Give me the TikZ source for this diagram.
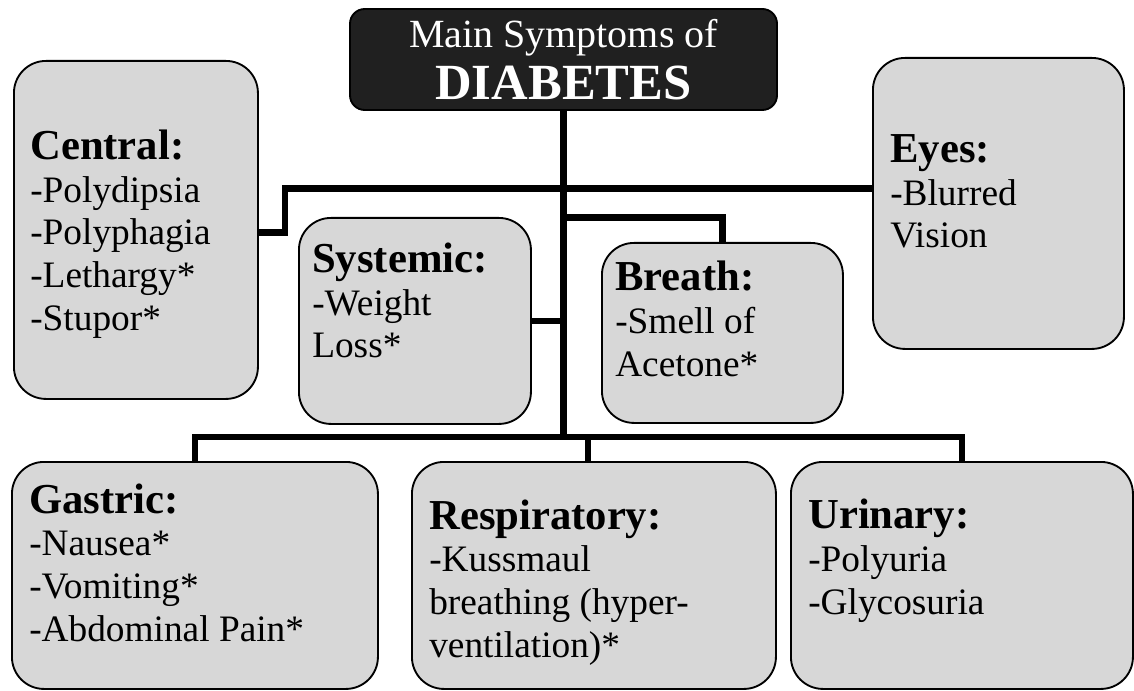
\documentclass[tikz,border=0pt]{standalone}
\usepackage{fontspec}
\setmainfont{Liberation Serif}
\definecolor{boxgray}{RGB}{215,215,215}
\definecolor{titlegray}{RGB}{32,32,32}
\newcommand{\hd}[1]{{\fontsize{32}{32}\selectfont\bfseries #1}}
\begin{document}
\begin{tikzpicture}[x=0.75pt, y=-0.75pt,
    box/.style = {draw, line width=1.4pt, fill=boxgray, rounded corners=24pt,
                  anchor=north west, inner sep=0},
    txt/.style = {anchor=base west, align=left, inner sep=0,
                  font=\fontsize{28}{32}\selectfont},
    conn/.style = {line width=5pt}]
          \useasboundingbox[fill=white] (0,0) rectangle (1134,691);

          \node[draw, line width=1.4pt, fill=titlegray, text=white, rounded corners=11pt,
                minimum width=427*0.75pt, minimum height=101*0.75pt, inner sep=0,
                align=center, font=\fontsize{30}{39}\selectfont] (title) at (563.5,59.5)
                {Main Symptoms of\\{\fontsize{38}{39}\selectfont\bfseries DIABETES}};

          \node[box, minimum width=244*0.75pt, minimum height=338*0.75pt] (central) at (13,60) {};
          \node[box, minimum width=232*0.75pt, minimum height=206*0.75pt] (systemic) at (298,217) {};
          \node[box, minimum width=241*0.75pt, minimum height=180*0.75pt] (breath) at (601,242) {};
          \node[box, minimum width=251*0.75pt, minimum height=291*0.75pt] (eyes) at (872,57) {};
          \node[box, minimum width=366*0.75pt, minimum height=227*0.75pt] (gastric) at (11,461) {};
          \node[box, minimum width=364*0.75pt, minimum height=227*0.75pt] (resp) at (411,461) {};
          \node[box, minimum width=342*0.75pt, minimum height=227*0.75pt] (urinary) at (790,461) {};

          % text nodes sit on the baseline of their last line
          \node[txt] (central-t) at (30,330) {\hd{Central:}\\-Polydipsia\\-Polyphagia\\-Lethargy*\\-Stupor*};
          \node[txt] (systemic-t) at (312,358) {\hd{Systemic:}\\-Weight\\Loss*};
          \node[txt] (breath-t) at (615,376) {\hd{Breath:}\\-Smell of\\Acetone*};
          \node[txt] (eyes-t) at (890,248) {\hd{Eyes:}\\-Blurred\\Vision};
          \node[txt] (gastric-t) at (29,641) {\hd{Gastric:}\\-Nausea*\\-Vomiting*\\-Abdominal Pain*};
          \node[txt] (resp-t) at (429,657) {\hd{Respiratory:}\\-Kussmaul\\breathing (hyper-\\ventilation)*};
          \node[txt] (urinary-t) at (808,614) {\hd{Urinary:}\\-Polyuria\\-Glycosuria};

          \coordinate (bus) at ([yshift=18pt]title.south |- gastric.north);
          \coordinate (fork) at ([yshift=-80pt]title.south);

          \draw[conn] (title.south) -- (bus);
          \draw[conn] ([yshift=-2pt]central.east) -- ++(26,0) |- ([yshift=11pt]eyes.west);
          \draw[conn] (systemic.east) -- (systemic.east -| title.south);
          \draw[conn] (fork) -| (breath.north);
          \draw[conn] (gastric.north) |- (bus) -| (urinary.north);
          \draw[conn] ([xshift=-4.5pt]resp.north) -- ++(0,-24);
        \end{tikzpicture}
\end{document}
